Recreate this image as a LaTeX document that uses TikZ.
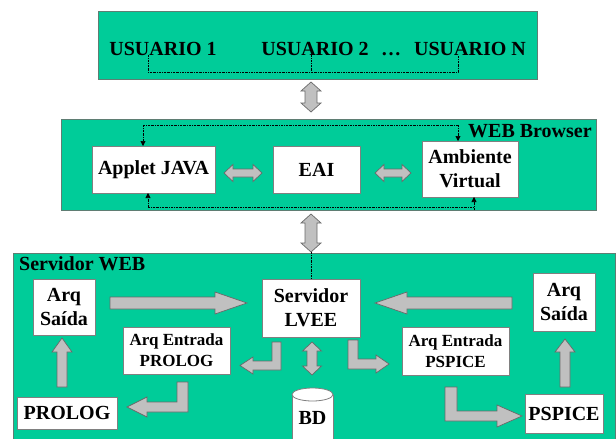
\documentclass[tikz,border=0pt]{standalone}
\usepackage{fontspec}
\setmainfont{Liberation Serif}
\usetikzlibrary{arrows.meta,calc}
\definecolor{grn}{RGB}{0,204,153}
\definecolor{grnedge}{RGB}{95,125,115}
\definecolor{arrfill}{RGB}{192,192,192}
\definecolor{arredge}{RGB}{105,105,105}
\newcommand\hdarrow[6]{\draw[blk] (#1,#3) -- ({#1+#6},{#3-#4}) -- ({#1+#6},{#3-#5}) -- ({#2-#6},{#3-#5}) -- ({#2-#6},{#3-#4}) -- (#2,#3) -- ({#2-#6},{#3+#4}) -- ({#2-#6},{#3+#5}) -- ({#1+#6},{#3+#5}) -- ({#1+#6},{#3+#4}) -- cycle;}
\newcommand\vdarrow[6]{\draw[blk] (#3,#1) -- ({#3-#4},{#1+#6}) -- ({#3-#5},{#1+#6}) -- ({#3-#5},{#2-#6}) -- ({#3-#4},{#2-#6}) -- (#3,#2) -- ({#3+#4},{#2-#6}) -- ({#3+#5},{#2-#6}) -- ({#3+#5},{#1+#6}) -- ({#3+#4},{#1+#6}) -- cycle;}
\begin{document}
\begin{tikzpicture}[x=1pt,y=-1pt,
  panel/.style={fill=grn,draw=grnedge,line width=0.8pt,inner sep=0pt,outer sep=0pt},
  wbox/.style={fill=white,draw=gray,line width=0.8pt,inner sep=0pt,outer sep=0pt,align=center,font=\bfseries\fontsize{20}{24}\selectfont},
  sbox/.style={wbox,font=\bfseries\fontsize{17}{21}\selectfont},
  lbl/.style={font=\bfseries\fontsize{20}{24}\selectfont,inner sep=0pt,text=black},
  blk/.style={fill=arrfill,draw=arredge,line width=0.7pt,line join=miter},
  dsh/.style={line width=0.6pt,dash pattern=on 2pt off 1pt on 0.6pt off 1pt},
  tip/.style={-{Triangle[length=5pt,width=5pt]}}]
\useasboundingbox (0,0) rectangle (616,439);
\clip (0,0) rectangle (616,439);

% panels
\node[panel,minimum width=439pt,minimum height=68pt] (top) at (317.5,45) {};
\node[panel,minimum width=535pt,minimum height=91pt] (browser) at (328.5,164.5) {};
\node[panel,minimum width=602pt,minimum height=200pt] (server) at (314,353) {};

% top texts
\node[lbl,anchor=base] (u1) at (163,55) {USUARIO 1};
\node[lbl,anchor=base] (u2) at (315,55) {USUARIO 2};
\node[lbl,anchor=base] (ud) at (391,55) {\dots};
\node[lbl,anchor=base] (un) at (470,55) {USUARIO N};
\coordinate (b1) at (148,72);
\coordinate (b2) at (311,72);
\coordinate (b3) at (458,72);
\draw[dsh] (b1 |- u1.south) -- (b1) -- (b3) -- (b3 |- un.south);
\draw[dsh] (b2 |- u2.south) -- (b2);

% browser
\node[lbl,anchor=base west] (wb) at (468,137) {WEB Browser};
\node[wbox,minimum width=123pt,minimum height=47pt] (applet) at (153.5,169.5) {Applet JAVA};
\node[wbox,minimum width=87pt,minimum height=47pt] (eai) at (316.5,169.5) {EAI};
\node[wbox,minimum width=96pt,minimum height=56pt] (amb) at (470,169) {Ambiente\\Virtual};
\hdarrow{224}{262}{173}{8.5}{4}{9}
\hdarrow{375}{411}{173}{8.5}{4}{9}
\coordinate (t1) at (143,125);
\coordinate (t2) at (458,125);
\draw[dsh] (t1) -- (t2);
\draw[dsh,tip] (t1) -- (t1 |- applet.north);
\draw[dsh,tip] (t2) -- (t2 |- amb.north);
\coordinate (d1) at (148,207);
\coordinate (d2) at (474,207);
\draw[dsh] (d1) -- (d2);
\draw[dsh,tip] (d1) -- (d1 |- applet.south);
\draw[dsh,tip] (d2 |- browser.south) -- (d2 |- amb.south);

% vertical links
\vdarrow{82}{112}{311}{10}{6}{9}
\vdarrow{214}{252}{311}{10}{6}{9}

% server
\node[lbl,anchor=base west] (sw) at (19,270) {Servidor WEB};
\node[wbox,minimum width=62pt,minimum height=56pt] (arqL) at (64,307) {Arq\\Saída};
\node[wbox,minimum width=98pt,minimum height=58pt] (lvee) at (311,308) {Servidor\\LVEE};
\node[sbox,minimum width=107pt,minimum height=47pt] (entP) at (176.5,350.5) {Arq Entrada\\PROLOG};
\node[wbox,minimum width=100pt,minimum height=32pt] (prolog) at (67,413) {PROLOG};
\node[wbox,minimum width=62pt,minimum height=58pt] (arqR) at (564,302) {Arq\\Saída};
\node[sbox,minimum width=107pt,minimum height=48pt] (entS) at (455.5,351) {Arq Entrada\\PSPICE};
\node[wbox,minimum width=78pt,minimum height=39pt] (pspice) at (564,413.5) {PSPICE};
\draw[dsh] (311,252) -- (lvee.north);

% database
\fill[white] (292,394.5) rectangle (333,470);
\draw[gray,line width=0.8pt] (292,394.5) -- (292,470) (333,394.5) -- (333,470);
\draw[gray,line width=0.8pt,fill=white] (312.5,394.5) ellipse [x radius=20.5pt,y radius=6.5pt];
\node[lbl] (bd) at (312.5,418) {BD};
\vdarrow{342}{375}{312}{9.5}{5}{9}

% block arrows
\draw[blk] (110,297) -- (215,297) -- (215,292) -- (247,303) -- (215,314) -- (215,309) -- (110,309) -- cycle;
\draw[blk] (512,297) -- (407,297) -- (407,292) -- (375,303) -- (407,314) -- (407,309) -- (512,309) -- cycle;
\draw[blk] (57,387) -- (67,387) -- (67,352) -- (72,352) -- (62,338) -- (52,352) -- (57,352) -- cycle;
\draw[blk] (560,387) -- (570,387) -- (570,352) -- (575,352) -- (565,339) -- (555,352) -- (560,352) -- cycle;
\draw[blk] (272,342) -- (281,342) -- (281,370) -- (253,370) -- (253,374) -- (240,365.5) -- (253,357) -- (253,361) -- (272,361) -- cycle;
\draw[blk] (177,382) -- (188,382) -- (188,412) -- (147,412) -- (147,417) -- (127,407) -- (147,397) -- (147,402) -- (177,402) -- cycle;
\draw[blk] (348,340) -- (358,340) -- (358,359) -- (376,359) -- (376,355) -- (389,364) -- (376,373) -- (376,369) -- (348,369) -- cycle;
\draw[blk] (445,387) -- (457,387) -- (457,411) -- (497,411) -- (497,405) -- (522,416) -- (497,427) -- (497,421) -- (445,421) -- cycle;
\end{tikzpicture}
\end{document}
